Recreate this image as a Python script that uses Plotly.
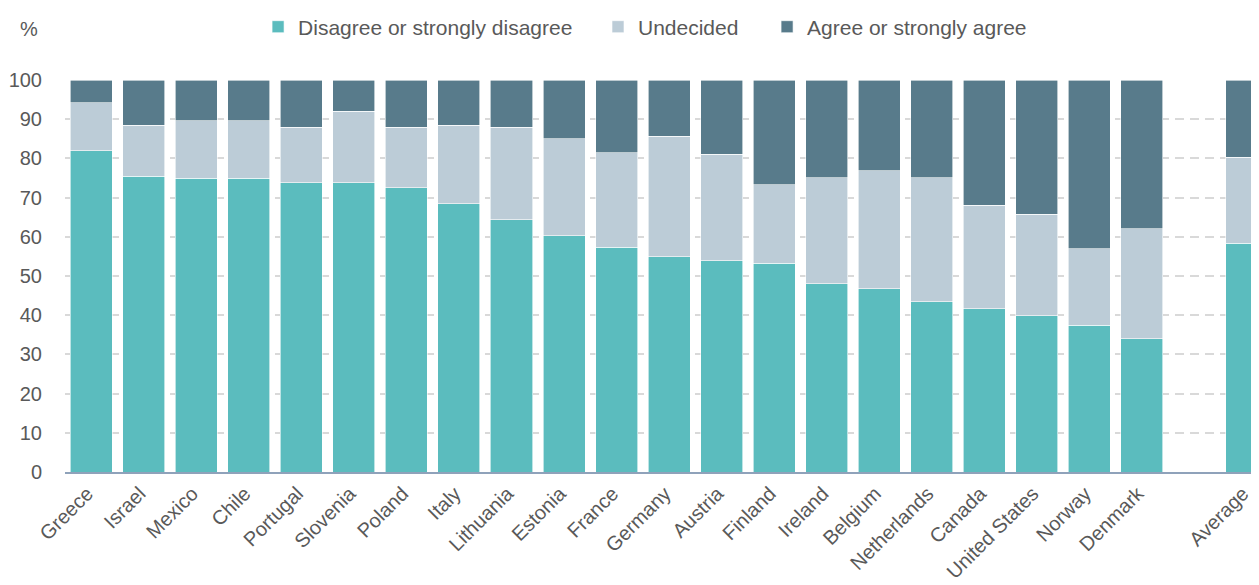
import plotly.graph_objects as go

countries = ["Greece", "Israel", "Mexico", "Chile", "Portugal", "Slovenia", "Poland", "Italy",
             "Lithuania", "Estonia", "France", "Germany", "Austria", "Finland", "Ireland",
             "Belgium", "Netherlands", "Canada", "United States", "Norway", "Denmark", "Average"]

disagree = [82.0, 75.5, 75.0, 75.0, 73.8, 73.8, 72.5, 68.4, 64.3, 60.3, 57.3, 54.9, 53.9, 53.3,
            48.0, 46.8, 43.4, 41.7, 39.9, 37.5, 34.0, 58.4]
undecided_top = [94.2, 88.4, 89.6, 89.6, 87.9, 92.0, 87.9, 88.4, 87.9, 85.0, 81.5, 85.6, 81.0, 73.3,
                 75.1, 76.8, 75.1, 68.0, 65.7, 56.9, 62.1, 80.3]
undecided = [round(t - d, 1) for t, d in zip(undecided_top, disagree)]
agree = [round(100 - t, 1) for t in undecided_top]

series_names = ["Disagree or strongly disagree", "Undecided", "Agree or strongly agree"]

# slot positions: a blank slot separates the countries from the average
positions = list(range(len(countries) - 1)) + [len(countries)]

colors = ["#5BBCBE", "#BCCCD7", "#587B8B"]
font_family = "Liberation Sans, Arial, sans-serif"
text_color = "#595959"

legend_ids = ["legend", "legend2", "legend3"]
legend_x = [0.1617, 0.4464, 0.5880]

fig = go.Figure()
for name, vals, col, lid in zip(series_names, [disagree, undecided, agree], colors, legend_ids):
    fig.add_trace(go.Bar(x=positions, y=vals, name=name, marker_color=col,
                         marker_line=dict(color="white", width=0.6), legend=lid))

legend_common = dict(orientation="h", xanchor="left", yref="container", y=0.967,
                     yanchor="middle", font=dict(size=21, color=text_color),
                     bgcolor="rgba(0,0,0,0)", itemwidth=30)
fig.update_layout(
    barmode="stack",
    bargap=0.2,
    width=1251, height=577,
    margin=dict(l=57, r=0, t=72, b=113),
    paper_bgcolor="white", plot_bgcolor="white",
    font=dict(family=font_family, size=20, color=text_color),
    legend=dict(x=legend_x[0], **legend_common),
    legend2=dict(x=legend_x[1], **legend_common),
    legend3=dict(x=legend_x[2], **legend_common),
    showlegend=True,
)
fig.update_xaxes(
    tickmode="array", tickvals=positions, ticktext=countries, tickangle=-45,
    range=[-0.5, 22.23], showgrid=False, showline=True, linecolor="#8FA2BA", linewidth=2,
    ticks="", tickfont=dict(size=20, color=text_color), zeroline=False,
    ticklabelshift=-4,
)
fig.update_yaxes(
    range=[0, 100], tickvals=list(range(0, 101, 10)), showgrid=True, gridcolor="#D9D9D9",
    griddash="9px,6px", gridwidth=1.5, zeroline=False, showline=False,
    tickfont=dict(size=20, color=text_color), ticklabelstandoff=22,
)
fig.add_annotation(text="%", xref="paper", yref="paper", x=-0.0394, y=1.130,
                   xanchor="left", yanchor="middle", showarrow=False,
                   font=dict(size=20, color=text_color))

fig.write_html("out.html")
